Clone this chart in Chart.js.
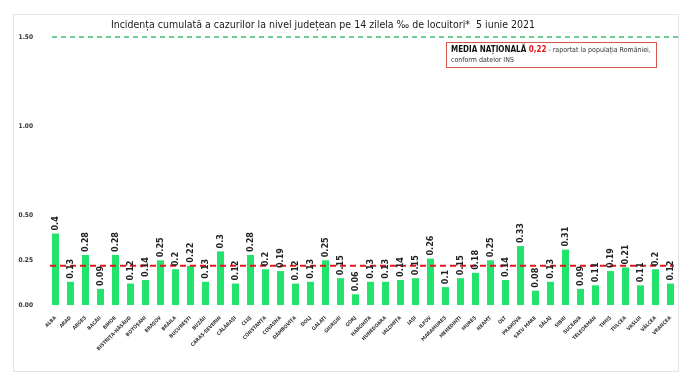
<!DOCTYPE html>
<html lang="ro">
<head>
<meta charset="UTF-8">
<title>Incidența cumulată</title>
<script src="https://cdn.jsdelivr.net/npm/chart.js"></script>
<style>
  html, body { margin: 0; padding: 0; background: #fff; }
  #wrap { width: 700px; height: 392px; }
</style>
</head>
<body>
<div id="wrap"><canvas id="chart" width="700" height="392"></canvas></div>
<script>
const judete = ['ALBA', 'ARAD', 'ARGEȘ', 'BACĂU', 'BIHOR', 'BISTRIȚA-NĂSĂUD', 'BOTOȘANI', 'BRAȘOV',
  'BRĂILA', 'BUCUREȘTI', 'BUZĂU', 'CARAȘ-SEVERIN', 'CĂLĂRAȘI', 'CLUJ', 'CONSTANȚA', 'COVASNA',
  'DÂMBOVIȚA', 'DOLJ', 'GALAȚI', 'GIURGIU', 'GORJ', 'HARGHITA', 'HUNEDOARA', 'IALOMIȚA', 'IAȘI',
  'ILFOV', 'MARAMUREȘ', 'MEHEDINȚI', 'MUREȘ', 'NEAMȚ', 'OLT', 'PRAHOVA', 'SATU MARE', 'SĂLAJ',
  'SIBIU', 'SUCEAVA', 'TELEORMAN', 'TIMIȘ', 'TULCEA', 'VASLUI', 'VÂLCEA', 'VRANCEA'];
const incidenta = [0.4, 0.13, 0.28, 0.09, 0.28, 0.12, 0.14, 0.25, 0.2, 0.22, 0.13, 0.3, 0.12, 0.28,
  0.2, 0.19, 0.12, 0.13, 0.25, 0.15, 0.06, 0.13, 0.13, 0.14, 0.15, 0.26, 0.1, 0.15, 0.18, 0.25,
  0.14, 0.33, 0.08, 0.13, 0.31, 0.09, 0.11, 0.19, 0.21, 0.11, 0.2, 0.12];
const yTicks = [0, 0.25, 0.5, 1, 1.5];
const mediaNationala = 0.22;
const pragMaxim = 1.5;
const titlu = 'Incidența cumulată a cazurilor la nivel județean pe 14 zilela ‰ de locuitori*  5 iunie 2021';

const fontFam = '"DejaVu Sans Condensed", "Liberation Sans", sans-serif';

// chenarul, titlul si caseta cu media
const decor = {
  id: 'decor',
  beforeDraw(chart) {
    const c = chart.ctx;
    c.save();
    c.strokeStyle = '#e4e4e4';
    c.lineWidth = 1;
    c.strokeRect(13.5, 14.5, 665, 357);
    c.fillStyle = '#1a1a1a';
    c.font = '10.5px ' + fontFam;
    c.textAlign = 'center';
    c.textBaseline = 'middle';
    c.fillText(titlu, 323, 25);
    c.restore();
  },
  afterDatasetsDraw(chart) {
    const c = chart.ctx;
    const area = chart.chartArea;
    const y = chart.scales.y;
    c.save();
    // linia verde la 1.50
    c.strokeStyle = '#3fbf72';
    c.lineWidth = 1.5;
    c.setLineDash([5, 4]);
    let py = y.getPixelForValue(pragMaxim);
    c.beginPath(); c.moveTo(area.left + 4, py); c.lineTo(area.right + 2, py); c.stroke();
    // media nationala
    c.strokeStyle = '#e8141c';
    c.lineWidth = 2;
    c.setLineDash([6, 4]);
    py = y.getPixelForValue(mediaNationala);
    c.beginPath(); c.moveTo(area.left + 2, py); c.lineTo(area.right - 4, py); c.stroke();
    c.setLineDash([]);

    // etichete valori
    const meta = chart.getDatasetMeta(0);
    c.fillStyle = '#222';
    c.font = 'bold 9px ' + fontFam;
    c.textAlign = 'left';
    c.textBaseline = 'middle';
    meta.data.forEach((bar, i) => {
      c.save();
      c.translate(bar.x, bar.y - 3);
      c.rotate(-Math.PI / 2);
      c.fillText(String(incidenta[i]), 0, 0);
      c.restore();
    });

    // caseta media
    c.fillStyle = '#fff';
    c.fillRect(446.5, 42.5, 210, 25);
    c.strokeStyle = '#d9534f';
    c.lineWidth = 1;
    c.strokeRect(446.5, 42.5, 210, 25);
    c.textAlign = 'left';
    c.textBaseline = 'middle';
    let x = 451;
    c.font = 'bold 8px ' + fontFam;
    c.fillStyle = '#111';
    c.fillText('MEDIA NAȚIONALĂ ', x, 50);
    x += c.measureText('MEDIA NAȚIONALĂ ').width;
    const mediaTxt = mediaNationala.toFixed(2).replace('.', ',');
    c.fillStyle = '#e8141c';
    c.fillText(mediaTxt, x, 50);
    x += c.measureText(mediaTxt).width;
    c.font = '7px ' + fontFam;
    c.fillStyle = '#333';
    c.fillText(' - raportat la populația României,', x, 50);
    c.fillText('conform datelor INS', 451, 60);
    c.restore();
  }
};

new Chart(document.getElementById('chart'), {
  type: 'bar',
  data: {
    labels: judete,
    datasets: [{
      data: incidenta,
      backgroundColor: '#22e36b',
      barPercentage: 0.47,
      categoryPercentage: 1
    }]
  },
  options: {
    responsive: false,
    animation: false,
    layout: { padding: { top: 37, right: 22, left: 0, bottom: 0 } },
    plugins: { legend: { display: false }, tooltip: { enabled: false } },
    scales: {
      x: {
        grid: { display: false },
        border: { display: false },
        ticks: {
          autoSkip: false,
          minRotation: 45,
          maxRotation: 45,
          padding: 2,
          color: '#3a3a3a',
          font: { size: 5, weight: 'bold', family: fontFam }
        },
        afterFit(s) { s.height = 87; }
      },
      y: {
        min: 0,
        max: 1.5,
        grid: { display: false },
        border: { display: false },
        afterBuildTicks(s) { s.ticks = yTicks.map(v => ({ value: v })); },
        afterFit(s) { s.width = 48; },
        ticks: {
          padding: 7,
          color: '#333',
          font: { size: 6.5, weight: 'bold', family: fontFam },
          callback: v => Number(v).toFixed(2)
        }
      }
    }
  },
  plugins: [decor]
});
</script>
</body>
</html>
